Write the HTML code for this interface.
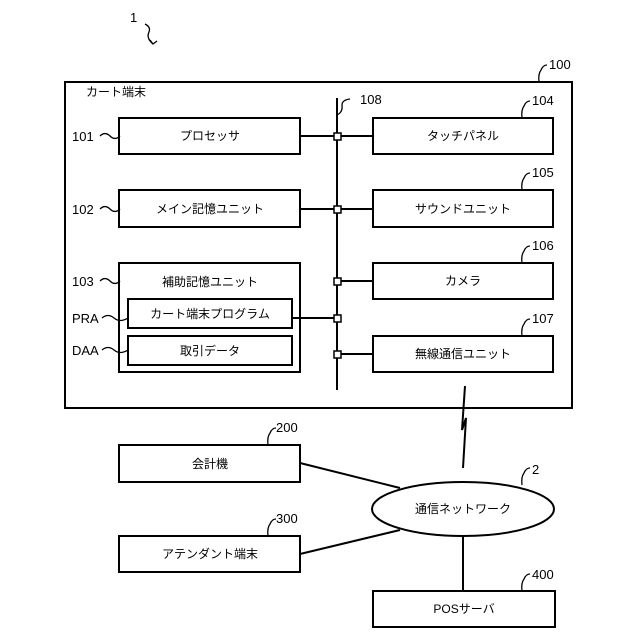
<!DOCTYPE html>
<html><head><meta charset="utf-8"><style>body{margin:0;background:#fff}svg{display:block}text{font-family:"Liberation Sans","Noto Sans CJK JP",sans-serif;fill:#000}</style></head><body>
<svg width="640" height="640" viewBox="0 0 640 640" xmlns="http://www.w3.org/2000/svg">
<g fill="none" stroke="#000" stroke-width="2">
<rect x="65" y="82" width="507" height="326"/>
<rect x="119" y="118" width="181" height="36"/>
<rect x="119" y="190" width="181" height="37"/>
<rect x="119" y="263" width="181" height="109"/>
<rect x="128" y="299" width="164" height="29"/>
<rect x="128" y="336" width="164" height="29"/>
<rect x="373" y="118" width="180" height="36"/>
<rect x="373" y="190" width="180" height="37"/>
<rect x="373" y="263" width="180" height="36"/>
<rect x="373" y="336" width="180" height="36"/>
<line x1="337" y1="98" x2="337" y2="390"/>
<line x1="300" y1="136" x2="373" y2="136"/>
<line x1="300" y1="209" x2="373" y2="209"/>
<line x1="337" y1="281" x2="373" y2="281"/>
<line x1="292" y1="318" x2="337" y2="318"/>
<line x1="337" y1="354" x2="373" y2="354"/>
<rect x="119" y="445" width="181" height="37"/>
<rect x="119" y="536" width="181" height="36"/>
<rect x="373" y="591" width="182" height="36"/>
<ellipse cx="463" cy="509" rx="91" ry="27"/>
<line x1="300" y1="463" x2="400" y2="488"/>
<line x1="300" y1="554" x2="400" y2="530"/>
<line x1="463" y1="536" x2="463" y2="591"/>
<polyline points="465,386 462,430 466,418 463,468"/>
</g>
<g fill="#fff" stroke="#000" stroke-width="1.5">
<rect x="334" y="133" width="7" height="7"/><rect x="334" y="206" width="7" height="7"/><rect x="334" y="278" width="7" height="7"/><rect x="334" y="315" width="7" height="7"/><rect x="334" y="351" width="7" height="7"/>
</g>
<g fill="none" stroke="#000" stroke-width="1.3">
<path d="M100,136 q5,-5 10,0 t10,0"/><path d="M100,209 q5,-5 10,0 t10,0"/><path d="M100,281 q5,-5 10,0 t10,0"/>
<path d="M102,318 q6,-5 12,0 t14,0"/><path d="M102,350 q6,-5 12,0 t14,0"/>
<path d="M337,115 q6,-3 5,-10 q0,-5 8,-6"/>
<path d="M539,82 q-1,-8 2,-12 q2,-5 6,-5"/>
<path d="M522,118 q-1,-8 2,-12 q2,-5 6,-5"/><path d="M522,190 q-1,-8 2,-12 q2,-5 6,-5"/><path d="M522,263 q-1,-8 2,-12 q2,-5 6,-5"/><path d="M522,336 q-1,-8 2,-12 q2,-5 6,-5"/>
<path d="M268,445 q-1,-8 2,-12 q2,-5 6,-5"/><path d="M268,536 q-1,-8 2,-12 q2,-5 6,-5"/>
<path d="M522,485 q-1,-8 2,-12 q2,-5 6,-5"/><path d="M522,591 q-1,-8 2,-12 q2,-5 6,-5"/>
<path d="M145,24 q6,3 4,8 q-3,6 4,12 M150,40 l3,4 l4,-3"/>
</g>
<g font-size="13">
<text x="130" y="22">1</text>
<text x="549" y="69">100</text><text x="360" y="104">108</text>
<text x="532" y="105">104</text><text x="532" y="177">105</text><text x="532" y="250">106</text><text x="532" y="323">107</text>
<text x="276" y="432">200</text><text x="276" y="523">300</text><text x="532" y="474">2</text><text x="532" y="579">400</text>
<text x="72" y="141">101</text><text x="72" y="214">102</text><text x="72" y="286">103</text><text x="72" y="323">PRA</text><text x="72" y="355">DAA</text>
</g>
<g font-size="12" text-anchor="middle">
<text x="86" y="96" text-anchor="start">カート端末</text>
<text x="210" y="140">プロセッサ</text><text x="210" y="213">メイン記憶ユニット</text><text x="210" y="286">補助記憶ユニット</text>
<text x="210" y="318">カート端末プログラム</text><text x="210" y="355">取引データ</text>
<text x="463" y="140">タッチパネル</text><text x="463" y="213">サウンドユニット</text><text x="463" y="285">カメラ</text><text x="463" y="358">無線通信ユニット</text>
<text x="210" y="468">会計機</text><text x="210" y="558">アテンダント端末</text><text x="463" y="513">通信ネットワーク</text><text x="464" y="613">POSサーバ</text>
</g>
</svg>
</body></html>
